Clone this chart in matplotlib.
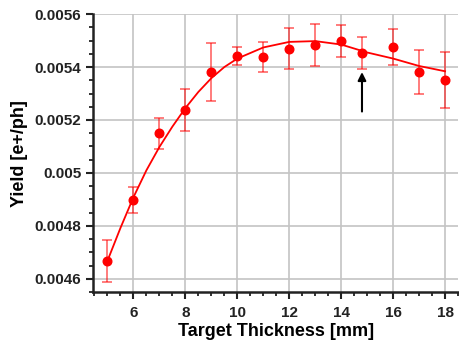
import numpy as np
import matplotlib
matplotlib.use('Agg')
import matplotlib.pyplot as plt
from matplotlib.ticker import MultipleLocator

plt.rcParams['font.family'] = ['Liberation Sans', 'DejaVu Sans']
plt.rcParams['font.weight'] = 'bold'

# measured points
thickness = [5, 6, 7, 8, 9, 10, 11, 12, 13, 14, 14.8, 16, 17, 18]
yield_val = [0.004667, 0.004898, 0.005149, 0.005238, 0.00538, 0.005441, 0.005438,
             0.00547, 0.005483, 0.005498, 0.005453, 0.005476, 0.005381, 0.00535]
yield_err = [0.00008, 0.000048, 0.000057, 0.00008, 0.00011, 0.000035, 0.000057,
             0.000078, 0.00008, 0.00006, 0.00006, 0.000067, 0.000082, 0.000105]

# fitted curve
fit_x = [5, 5.5, 6, 6.5, 7, 7.5, 8, 8.5, 9, 9.5, 10, 11, 12, 13, 14, 15, 16, 17, 18]
fit_y = [0.004668, 0.004792, 0.004908, 0.00501, 0.005098, 0.005175, 0.005245,
         0.005306, 0.005358, 0.0054, 0.005432, 0.005474, 0.005495, 0.005498,
         0.005485, 0.005455, 0.005432, 0.005404, 0.005384]

yticks = [0.0046, 0.0048, 0.005, 0.0052, 0.0054, 0.0056]
ytick_labels = ['0.0046', '0.0048', '0.005', '0.0052', '0.0054', '0.0056']

fig = plt.figure(figsize=(4.59, 3.44), dpi=100)
ax = fig.add_axes([0.203, 0.151, 0.795, 0.808])

ax.grid(True, color='#c4c4c4', linewidth=1.2, zorder=0)
ax.plot(fit_x, fit_y, color='red', linewidth=1.3, zorder=3)
ax.errorbar(thickness, yield_val, yerr=yield_err, fmt='none', ecolor='red',
            alpha=0.65, elinewidth=1.1, capsize=3.5, capthick=1.1, zorder=4)
ax.plot(thickness, yield_val, 'o', color='red', markersize=6.2, zorder=5)

ax.annotate('', xy=(14.8, 0.005381), xytext=(14.8, 0.005232),
            arrowprops=dict(arrowstyle='-|>', color='black', lw=1.5,
                            mutation_scale=12, shrinkA=0, shrinkB=0))

ax.set_xlim(4.45, 18.5)
ax.set_ylim(0.00455, 0.0056)
ax.xaxis.set_major_locator(MultipleLocator(2))
ax.xaxis.set_minor_locator(MultipleLocator(0.5))
ax.set_yticks(yticks)
ax.set_yticklabels(ytick_labels)
ax.yaxis.set_minor_locator(MultipleLocator(0.00005))

for s in ['top', 'right']:
    ax.spines[s].set_visible(False)
for s in ['left', 'bottom']:
    ax.spines[s].set_linewidth(1.8)
    ax.spines[s].set_color('#222222')

ax.tick_params(which='major', direction='out', length=5, width=1.5,
               labelsize=11, colors='#222222')
ax.tick_params(which='minor', direction='out', length=3, width=1.3,
               colors='#222222')
ax.tick_params(axis='x', pad=5)

ax.set_xlabel('Target Thickness [mm]', fontsize=13, fontweight='bold', labelpad=2)
ax.set_ylabel('Yield [e+/ph]', fontsize=13, fontweight='bold', labelpad=5)

fig.savefig('out.png', dpi=100)
